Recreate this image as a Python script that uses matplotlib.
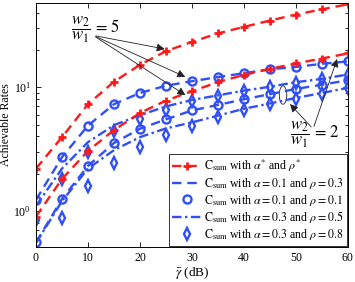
import numpy as np
import matplotlib
matplotlib.use("Agg")
import matplotlib.pyplot as plt
from matplotlib.patches import Ellipse

plt.rcParams['font.family'] = ['Liberation Serif', 'DejaVu Serif']
plt.rcParams['mathtext.fontset'] = 'stix'

snr_db = [0, 5, 10, 15, 20, 25, 30, 35, 40, 45, 50, 55, 60]

# w2/w1 = 5
red_w5 = [2.2, 3.95, 7.3, 11.1, 15.2, 19.6, 23.3, 27.3, 30.8, 34.7, 38.8, 42.7, 47.0]
dash_a01_r03_w5 = [1.23, 2.72, 4.9, 7.3, 9.0, 10.3, 11.2, 12.1, 13.0, 14.0, 14.6, 15.5, 16.2]
circ_a01_r01_w5 = [1.23, 2.72, 4.9, 7.3, 9.0, 10.3, 11.2, 12.1, 13.0, 14.0, 14.6, 15.5, 16.2]
dd_a03_r05_w5 = [1.1, 2.2, 3.6, 4.94, 5.95, 7.0, 7.9, 8.6, 9.4, 10.1, 11.0, 11.7, 12.7]
diam_a03_r08_w5 = [0.85, 1.8, 3.0, 4.4, 5.5, 6.5, 7.7, 8.45, 9.3, 10.0, 10.9, 11.6, 12.6]

# w2/w1 = 2
red_w2 = [0.9, 1.81, 3.06, 4.5, 6.2, 7.8, 9.3, 11.0, 12.6, 14.1, 15.6, 17.1, 18.8]
dash_a01_r03_w2 = [0.555, 1.25, 2.31, 3.54, 4.62, 5.5, 6.5, 7.2, 8.0, 8.8, 9.7, 10.5, 11.4]
circ_a01_r01_w2 = [0.555, 1.25, 2.31, 3.54, 4.62, 5.5, 6.5, 7.2, 8.0, 8.8, 9.7, 10.5, 11.4]
dd_a03_r05_w2 = [0.55, 1.2, 2.2, 3.1, 3.95, 4.65, 5.2, 5.9, 6.7, 7.4, 8.2, 9.0, 9.9]
diam_a03_r08_w2 = [np.nan, 0.88, 1.59, 2.45, 3.26, 4.1, 4.9, 5.7, 6.55, 7.35, 8.1, 8.9, 9.8]

labels = [r'$\mathrm{C}_{\mathrm{sum}}$ with $\alpha^{*}$ and $\rho^{*}$',
          r'$\mathrm{C}_{\mathrm{sum}}$ with $\alpha=0.1$ and $\rho=0.3$',
          r'$\mathrm{C}_{\mathrm{sum}}$ with $\alpha=0.1$ and $\rho=0.1$',
          r'$\mathrm{C}_{\mathrm{sum}}$ with $\alpha=0.3$ and $\rho=0.5$',
          r'$\mathrm{C}_{\mathrm{sum}}$ with $\alpha=0.3$ and $\rho=0.8$']

red = '#ff1a1a'
blue = '#3050f5'

fig = plt.figure(figsize=(3.55, 2.82), dpi=100)
ax = fig.add_axes([0.1014, 0.124, 0.8786, 0.865])

lw = 1.7
red_kw = dict(color=red, lw=lw, ls=(0, (4, 2.5)), marker='+', ms=6, mew=2)
dash_kw = dict(color=blue, lw=lw, ls=(0, (4, 2.5)))
circ_kw = dict(color=blue, ls='none', marker='o', ms=5.8, mew=1.7, mfc='none')
dd_kw = dict(color=blue, lw=lw, ls=(0, (4, 1.5, 1, 1.5)))
diam_kw = dict(color=blue, ls='none', marker='d', ms=5.8, mew=1.7, mfc='none')

h1, = ax.plot(snr_db, red_w5, label=labels[0], **red_kw)
h2, = ax.plot(snr_db, dash_a01_r03_w5, label=labels[1], **dash_kw)
h3, = ax.plot(snr_db, circ_a01_r01_w5, label=labels[2], **circ_kw)
h4, = ax.plot(snr_db, dd_a03_r05_w5, label=labels[3], **dd_kw)
h5, = ax.plot(snr_db, diam_a03_r08_w5, label=labels[4], **diam_kw)

ax.plot(snr_db, dash_a01_r03_w2, **dash_kw)
ax.plot(snr_db, circ_a01_r01_w2, **circ_kw)
ax.plot(snr_db, dd_a03_r05_w2, **dd_kw)
ax.plot(snr_db, diam_a03_r08_w2, **diam_kw)
ax.plot(snr_db, red_w2, **red_kw)

ax.set_yscale('log')
ax.set_xlim(0, 60)
ax.set_ylim(0.51, 48)
ax.set_xticks([0, 10, 20, 30, 40, 50, 60])
ax.tick_params(which='both', direction='in', top=True, right=True, labelsize=8.5, width=0.6)
ax.tick_params(which='major', length=3.5)
ax.tick_params(which='minor', length=2)
for s in ax.spines.values():
    s.set_linewidth(0.7)
ax.set_xlabel(r'$\bar{\gamma}$ (dB)', fontsize=9.5, labelpad=1)
ax.set_ylabel('Achievable Rates', fontsize=8.5, labelpad=1)

leg = ax.legend(handles=[h1, h2, h3, h4, h5], loc='lower right', fontsize=8.6,
                numpoints=1, handlelength=2.5, handletextpad=0.15,
                labelspacing=0.15, borderpad=0.3, borderaxespad=0.1,
                fancybox=False, edgecolor='#333333', framealpha=1)
leg.get_frame().set_linewidth(0.7)

# annotations
ax.text(11.5, 29.0, r'$\dfrac{w_2}{w_1}\,=\,5$', fontsize=12, ha='center', va='center')
arrow = dict(arrowstyle='-|>', color='#222222', lw=0.6, mutation_scale=12)
origin5 = (11.0, 26.3)
for tgt in [(25.3, 20.2), (29.2, 11.9), (29.2, 8.4)]:
    ax.annotate('', xy=tgt, xytext=origin5, arrowprops=arrow)

ax.text(53.6, 4.15, r'$\dfrac{w_2}{w_1}\,=\,2$', fontsize=12, ha='center', va='center')
origin2 = (53.3, 4.6)
for tgt in [(58.1, 17.8), (48.5, 7.6)]:
    ax.annotate('', xy=tgt, xytext=origin2, arrowprops=arrow)

ax.add_patch(Ellipse((0.792, 0.623), 0.024, 0.075, transform=ax.transAxes,
                     fill=False, ec='#222222', lw=0.6))

fig.savefig('out.png', dpi=100)
